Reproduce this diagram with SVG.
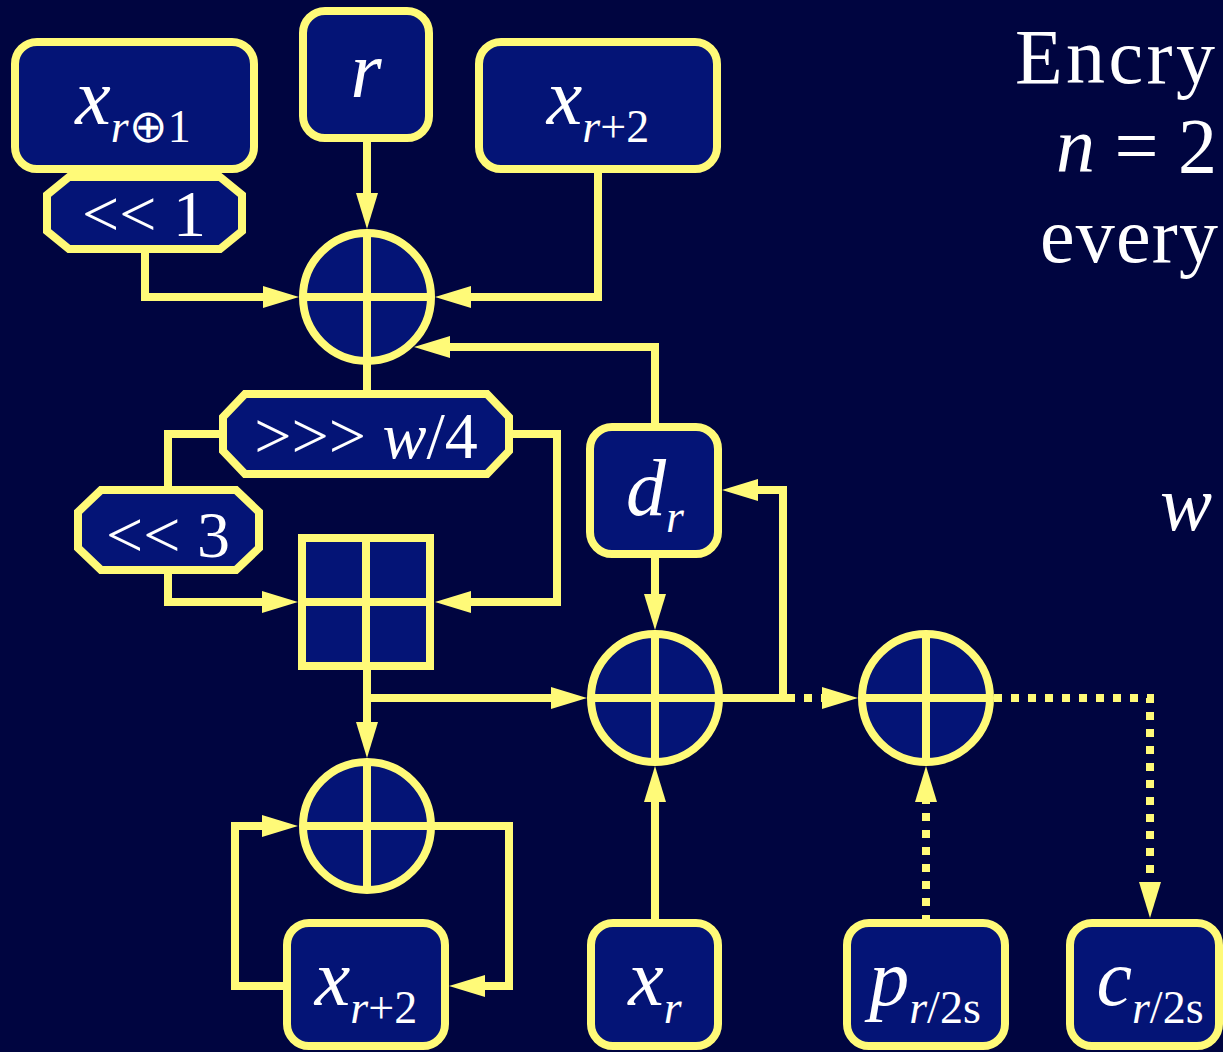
<svg xmlns="http://www.w3.org/2000/svg" width="1223" height="1052" viewBox="0 0 1223 1052">
<defs>
<style>
.bg{fill:#000540}
.n{fill:#041476;stroke:#fffa78;stroke-width:8}
.x{stroke:#fffa78;stroke-width:8;fill:none}
.c{stroke:#fffa78;stroke-width:8;fill:none;stroke-linejoin:miter}
.d{stroke:#fffa78;stroke-width:8;fill:none;stroke-dasharray:8 9}
.a{marker-end:url(#ah)}
</style>
<marker id="ah" markerUnits="userSpaceOnUse" markerWidth="36" markerHeight="22" viewBox="0 0 36 22" refX="0" refY="11" orient="auto">
<path d="M0,0 L36,11 L0,22 z" fill="#fffa78"/>
</marker>
</defs>
<rect class="bg" x="0" y="0" width="1223" height="1052"/>

<g id="connectors">
<path class="c a" d="M367,138 V193"/>
<path class="c a" d="M145,249 V297 H263"/>
<path class="c a" d="M598,169 V297 H471"/>
<path class="c a" d="M655,427 V347 H450"/>
<path class="c" d="M367,361 V394"/>
<path class="c" d="M223,434 H168 V490"/>
<path class="c a" d="M509,434 H557 V602 H471"/>
<path class="c a" d="M168,570 V602 H262"/>
<path class="c a" d="M367,666 V698 H551"/>
<path class="c a" d="M367,698 V722"/>
<path class="c a" d="M431,826 H509 V986 H485"/>
<path class="c a" d="M287,986 H235 V826 H262"/>
<path class="c a" d="M655,554 V594"/>
<path class="c a" d="M655,923 V802"/>
<path class="c a" d="M719,698 H783 V490 H758"/>
<path class="d a" d="M787,698 H822"/>
<path class="d a" d="M994,698 H1150 V882"/>
<path class="d a" d="M926,923 V802"/>
</g>

<g id="n-x-r-plus1">
<rect class="n" x="15" y="42" width="239" height="127" rx="22"/>
<text font-family="Liberation Serif" font-size="80" fill="#ffffff" text-anchor="middle" x="133" y="124"><tspan font-style="italic">x</tspan><tspan font-size="46" dy="18"><tspan font-style="italic">r</tspan>⊕1</tspan></text>
</g>
<g id="n-shl1">
<polygon class="n" points="69,177 220,177 242,195 242,231 220,249 69,249 47,231 47,195"/>
<text font-family="Liberation Serif" font-size="66" fill="#ffffff" text-anchor="middle" x="144" y="236">&lt;&lt; 1</text>
</g>
<g id="n-r">
<rect class="n" x="303" y="11" width="126" height="127" rx="22"/>
<text font-family="Liberation Serif" font-size="80" fill="#ffffff" text-anchor="middle" font-style="italic" x="366" y="97">r</text>
</g>
<g id="n-x-r2-top">
<rect class="n" x="479" y="42" width="238" height="127" rx="22"/>
<text font-family="Liberation Serif" font-size="80" fill="#ffffff" text-anchor="middle" x="598" y="124"><tspan font-style="italic">x</tspan><tspan font-size="46" dy="18"><tspan font-style="italic">r</tspan>+2</tspan></text>
</g>
<g id="n-add-top">
<circle class="n" cx="367" cy="297" r="64"/>
<path class="x" d="M303,297 H431 M367,233 V361"/>
</g>
<g id="n-rotr">
<polygon class="n" points="245,394 487,394 509,417 509,451 487,474 245,474 223,451 223,417"/>
<text font-family="Liberation Serif" font-size="66" fill="#ffffff" text-anchor="middle" x="366" y="458">&gt;&gt;&gt; <tspan font-style="italic">w</tspan>/4</text>
</g>
<g id="n-shl3">
<polygon class="n" points="101,490 236,490 259,512 259,548 236,570 101,570 78,548 78,512"/>
<text font-family="Liberation Serif" font-size="66" fill="#ffffff" text-anchor="middle" x="168" y="557">&lt;&lt; 3</text>
</g>
<g id="n-grid">
<rect class="n" x="302" y="538" width="128" height="128"/>
<path class="x" d="M302,602 H430 M366,538 V666"/>
</g>
<g id="n-dr">
<rect class="n" x="590" y="427" width="128" height="127" rx="22"/>
<text font-family="Liberation Serif" font-size="80" fill="#ffffff" text-anchor="middle" x="655" y="515"><tspan font-style="italic">d</tspan><tspan font-size="46" font-style="italic" dy="17">r</tspan></text>
</g>
<g id="n-add-mid">
<circle class="n" cx="655" cy="698" r="64"/>
<path class="x" d="M591,698 H719 M655,634 V762"/>
</g>
<g id="n-add-right">
<circle class="n" cx="926" cy="698" r="64"/>
<path class="x" d="M862,698 H990 M926,634 V762"/>
</g>
<g id="n-add-low">
<circle class="n" cx="367" cy="826" r="64"/>
<path class="x" d="M303,826 H431 M367,762 V890"/>
</g>
<g id="n-x-r2-bottom">
<rect class="n" x="287" y="923" width="158" height="123" rx="22"/>
<text font-family="Liberation Serif" font-size="80" fill="#ffffff" text-anchor="middle" x="366" y="1005"><tspan font-style="italic">x</tspan><tspan font-size="46" dy="18"><tspan font-style="italic">r</tspan>+2</tspan></text>
</g>
<g id="n-xr">
<rect class="n" x="591" y="923" width="127" height="123" rx="22"/>
<text font-family="Liberation Serif" font-size="80" fill="#ffffff" text-anchor="middle" x="655" y="1005"><tspan font-style="italic">x</tspan><tspan font-size="46" font-style="italic" dy="18">r</tspan></text>
</g>
<g id="n-p">
<rect class="n" x="847" y="923" width="158" height="123" rx="22"/>
<text font-family="Liberation Serif" font-size="80" fill="#ffffff" text-anchor="middle" x="925" y="1005"><tspan font-style="italic">p</tspan><tspan font-size="46" dy="18"><tspan font-style="italic">r</tspan>/2s</tspan></text>
</g>
<g id="n-c">
<rect class="n" x="1070" y="923" width="149" height="123" rx="22"/>
<text font-family="Liberation Serif" font-size="80" fill="#ffffff" text-anchor="middle" x="1150" y="1005"><tspan font-style="italic">c</tspan><tspan font-size="46" dy="18"><tspan font-style="italic">r</tspan>/2s</tspan></text>
</g>

<g id="side-text">
<text font-family="Liberation Serif" font-size="78" fill="#ffffff" x="1015" y="83" textLength="200" lengthAdjust="spacing">Encry</text>
<text font-family="Liberation Serif" font-size="78" fill="#ffffff" x="1056" y="172"><tspan font-style="italic">n</tspan> = 2</text>
<text font-family="Liberation Serif" font-size="78" fill="#ffffff" x="1040" y="262" textLength="178" lengthAdjust="spacing">every</text>
<text font-family="Liberation Serif" font-size="78" fill="#ffffff" font-style="italic" x="1160" y="530">w</text>
</g>
</svg>
